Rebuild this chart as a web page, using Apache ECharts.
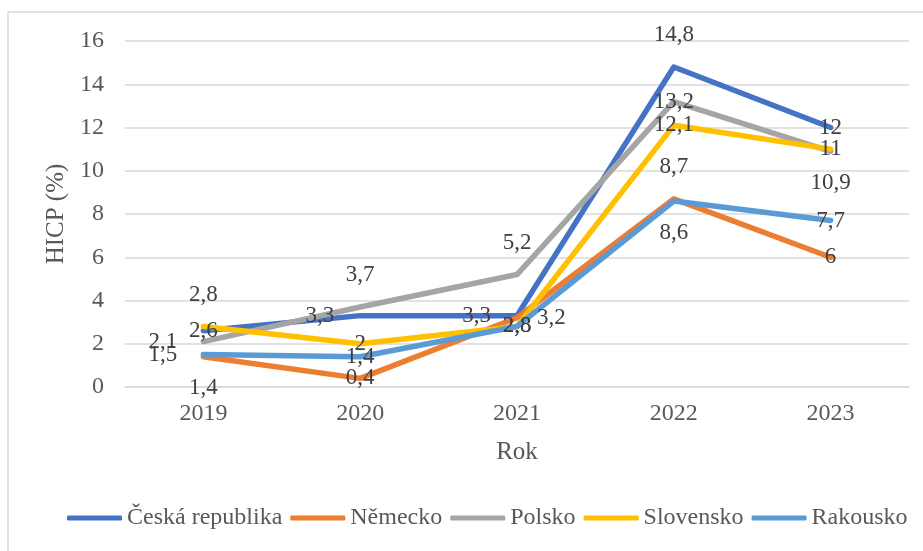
<!DOCTYPE html>
<html>
<head>
<meta charset="utf-8">
<script src="https://cdn.jsdelivr.net/npm/echarts@6/dist/echarts.min.js"></script>
<style>
  html, body { margin: 0; padding: 0; background: #fff; }
  #chart { width: 923px; height: 551px; }
</style>
</head>
<body>
<div id="chart"></div>
<script>
// data
const years = ['2019', '2020', '2021', '2022', '2023'];
const yTicks = [0, 2, 4, 6, 8, 10, 12, 14, 16];

const cesko = [2.6, 3.3, 3.3, 14.8, 12];
const nemecko = [1.4, 0.4, 3.2, 8.7, 6];
const polsko = [2.1, 3.7, 5.2, 13.2, 10.9];
const slovensko = [2.8, 2, 2.8, 12.1, 11];
const rakousko = [1.5, 1.4, 2.8, 8.6, 7.7];

// where Excel put each data label
const cLabelPos = ['inside', 'left', 'left', 'top', 'inside'];
const nLabelPos = ['bottom', 'inside', 'right', 'top', 'inside'];
const pLabelPos = ['left', 'top', 'top', 'inside', 'bottom'];
const sLabelPos = ['top', 'inside', 'inside', 'inside', 'inside'];
const rLabelPos = ['left', 'inside', 'inside', 'bottom', 'inside'];

const FONT = '"Liberation Serif", "Times New Roman", serif';

const chart = echarts.init(document.getElementById('chart'));

function mkSeries(name, values, pos, color) {
  return {
    name: name,
    type: 'line',
    data: values.map((v, i) => ({
      value: v,
      label: { position: pos[i], distance: pos[i] === 'left' ? 26 : 20 }
    })),
    showSymbol: true,
    symbol: 'circle',
    symbolSize: 0.1,
    lineStyle: { color: color, width: 5.5, cap: 'round', join: 'round' },
    itemStyle: { color: color },
    label: {
      show: true,
      fontFamily: FONT,
      fontSize: 23,
      color: '#404040',
      formatter: p => String(p.value).replace('.', ',')
    },
    labelLayout: { hideOverlap: false },
    emphasis: { disabled: true }
  };
}

chart.setOption({
  animation: false,
  textStyle: { fontFamily: FONT },
  graphic: [{
    type: 'rect',
    shape: { x: 8, y: 12, width: 940, height: 570 },
    style: { fill: 'none', stroke: '#d9d9d9', lineWidth: 1.5 },
    silent: true
  }],
  grid: { left: 125, right: 14, top: 41, bottom: 164 },
  legend: {
    left: 62,
    bottom: 16,
    itemWidth: 55,
    itemHeight: 5,
    itemGap: 8,
    icon: 'roundRect',
    textStyle: { fontFamily: FONT, fontSize: 24, color: '#595959' },
    data: ['Česká republika', 'Německo', 'Polsko', 'Slovensko', 'Rakousko']
  },
  xAxis: {
    type: 'category',
    data: years,
    boundaryGap: true,
    name: 'Rok',
    nameLocation: 'middle',
    nameGap: 53,
    nameTextStyle: { fontFamily: FONT, fontSize: 25, color: '#595959' },
    axisLine: { show: true, lineStyle: { color: '#d9d9d9', width: 1.5 } },
    axisTick: { show: false },
    axisLabel: { fontFamily: FONT, fontSize: 24, color: '#595959', margin: 15 }
  },
  yAxis: {
    type: 'value',
    min: yTicks[0],
    max: yTicks[yTicks.length - 1],
    interval: 2,
    name: 'HICP (%)',
    nameLocation: 'middle',
    nameGap: 54,
    nameTextStyle: { fontFamily: FONT, fontSize: 25, color: '#595959' },
    axisLine: { show: false },
    axisTick: { show: false },
    axisLabel: { fontFamily: FONT, fontSize: 24, color: '#595959', margin: 21 },
    splitLine: { lineStyle: { color: '#d9d9d9', width: 1.5 } }
  },
  series: [
    mkSeries('Česká republika', cesko, cLabelPos, '#4472C4'),
    mkSeries('Německo', nemecko, nLabelPos, '#ED7D31'),
    mkSeries('Polsko', polsko, pLabelPos, '#A5A5A5'),
    mkSeries('Slovensko', slovensko, sLabelPos, '#FFC000'),
    mkSeries('Rakousko', rakousko, rLabelPos, '#5B9BD5')
  ]
});
</script>
</body>
</html>
